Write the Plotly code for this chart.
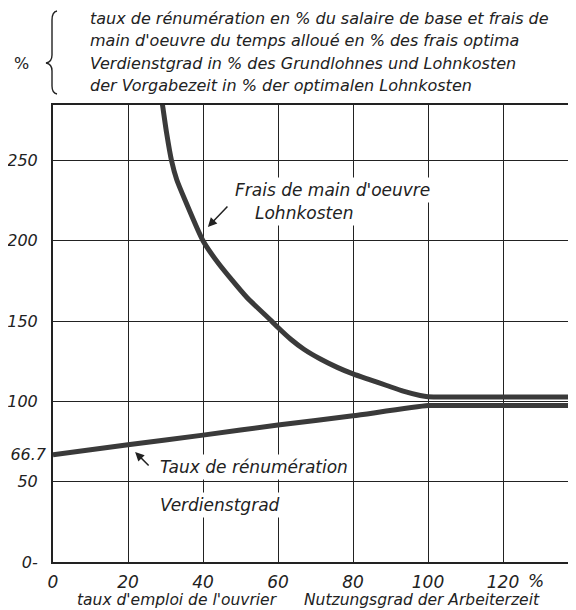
import plotly.graph_objects as go

# ---- data ----
frais_x = [28.5, 29.2, 30.3, 31.6, 33.0, 35.2, 40, 44.1, 51.6, 58.3, 60, 63.4, 66.9, 71.3, 75.8, 80,
           84.6, 89, 93.4, 97.9, 100, 110, 145]
frais_y = [295, 284.6, 267, 250, 238, 225.4, 200, 186, 165, 150, 146, 138.7, 132.5, 126.4, 121.2, 117.1,
           113.4, 109.9, 106.4, 103.7, 102.9, 102.8, 102.8]

taux_x = [0, 20, 40, 60, 80, 100, 110, 145]
taux_y = [66.7, 73, 79, 85.3, 91, 97.4, 97.4, 97.4]

x_ticks = [0, 20, 40, 60, 80, 100, 120]
x_ticktext = ["0", "20", "40", "60", "80", "100", "120"]
y_ticks = [0, 50, 100, 150, 200, 250]
y_ticktext = ["0-", "50", "100", "150", "200", "250"]
y_extra_tick = [66.7]
y_extra_text = ["66.7"]

header_lines = [
    "taux de rénumération en % du salaire de base et frais de",
    "main d'oeuvre du temps alloué en % des frais optima",
    "Verdienstgrad in % des Grundlohnes und Lohnkosten",
    "der Vorgabezeit in % der optimalen Lohnkosten",
]

FONT = "DejaVu Sans"
INK = "#222222"
LINE = "#3a3a3a"

# The page body has an 8px margin, so the figure is 8px smaller than the window
OFF = 8
W, H = 576 - OFF, 610 - OFF
L = 53 - OFF            # plot left edge (window px 53)
T = 105 - OFF           # plot top edge (window px 105)
B = 610 - 562           # plot bottom at window px 562
PW = W - L
PH = H - T - B


def paper(px, py):
    """window pixel -> paper coords"""
    return (px - 53) / PW, (562 - py) / PH


fig = go.Figure()
fig.add_trace(go.Scatter(x=frais_x, y=frais_y, mode="lines",
                         line=dict(color=LINE, width=5, shape="spline", smoothing=0.6),
                         hoverinfo="skip", showlegend=False))
fig.add_trace(go.Scatter(x=taux_x, y=taux_y, mode="lines",
                         line=dict(color=LINE, width=5, shape="spline", smoothing=0.5),
                         hoverinfo="skip", showlegend=False))
# invisible trace on second y-axis so it renders
fig.add_trace(go.Scatter(x=[0], y=[66.7], yaxis="y2", mode="markers",
                         marker=dict(opacity=0), hoverinfo="skip", showlegend=False))

tickfont = dict(family=FONT, size=17, color=INK, style="italic")
ytickfont = dict(family=FONT, size=16, color=INK, style="italic")

fig.update_layout(
    width=W, height=H, autosize=False,
    margin=dict(l=L, r=0, t=T, b=B, pad=0),
    paper_bgcolor="white", plot_bgcolor="white",
    xaxis=dict(range=[0, PW / 3.75], tickvals=x_ticks, ticktext=x_ticktext,
               showgrid=True, gridcolor=INK, gridwidth=1, zeroline=False,
               showline=True, linecolor=INK, linewidth=2, mirror=True, automargin=False,
               ticks="", tickfont=tickfont, ticklabelstandoff=4, fixedrange=True),
    yaxis=dict(range=[0, PH / 1.606], tickvals=y_ticks, ticktext=y_ticktext,
               showgrid=True, gridcolor=INK, gridwidth=1, zeroline=False, automargin=False,
               showline=True, linecolor=INK, linewidth=2,
               ticks="", tickfont=ytickfont, ticklabelstandoff=10, fixedrange=True),
    yaxis2=dict(range=[0, PH / 1.606], overlaying="y", side="left", automargin=False,
                tickvals=y_extra_tick, ticktext=y_extra_text, showgrid=False,
                zeroline=False, showline=False, ticks="", tickfont=ytickfont,
                ticklabelstandoff=6, fixedrange=True),
)

ann = []
# header
for txt, py in zip(header_lines, [18, 41, 63, 86]):
    px_, py_ = paper(88, py)
    ann.append(dict(xref="paper", yref="paper", x=px_, y=py_, text=txt,
                    showarrow=False, xanchor="left", yanchor="middle",
                    font=dict(family=FONT, size=16, color=INK, style="italic")))
px_, py_ = paper(21, 63)
ann.append(dict(xref="paper", yref="paper", x=px_, y=py_, text="%", showarrow=False,
                xanchor="center", yanchor="middle",
                font=dict(family=FONT, size=16, color=INK)))

# in-plot labels
lab_font = dict(family=FONT, size=17, color=INK, style="italic")
ann.append(dict(x=47.7, y=231.6, text="Frais de main d'oeuvre", xanchor="left",
                yanchor="middle", showarrow=False, font=lab_font, bgcolor="white", borderpad=2))
ann.append(dict(x=53.1, y=217.3, text="Lohnkosten", xanchor="left",
                yanchor="middle", showarrow=False, font=lab_font, bgcolor="white", borderpad=2))
ann.append(dict(x=41.3, y=208.6, ax=46.9, ay=222.3, axref="x", ayref="y", text="",
                showarrow=True, arrowhead=2, arrowsize=1.2, arrowwidth=1.5, arrowcolor=INK))
ann.append(dict(x=27.7, y=59.2, text="Taux de rénumération", xanchor="left",
                yanchor="middle", showarrow=False, font=lab_font, bgcolor="white", borderpad=2))
ann.append(dict(x=27.7, y=35.5, text="Verdienstgrad", xanchor="left",
                yanchor="middle", showarrow=False, font=lab_font, bgcolor="white", borderpad=2))
ann.append(dict(x=21.9, y=68.5, ax=25.9, ay=59.2, axref="x", ayref="y", text="",
                showarrow=True, arrowhead=2, arrowsize=1.2, arrowwidth=1.5, arrowcolor=INK))

# x-axis titles and % sign
px_, py_ = paper(536, 581)
ann.append(dict(xref="paper", yref="paper", x=px_, y=py_, text="%", showarrow=False,
                xanchor="center", yanchor="middle", font=tickfont))
title_font = dict(family=FONT, size=15.5, color=INK, style="italic")
px_, py_ = paper(177, 600)
ann.append(dict(xref="paper", yref="paper", x=px_, y=py_, text="taux d'emploi de l'ouvrier",
                showarrow=False, xanchor="center", yanchor="middle", font=title_font))
px_, py_ = paper(422, 600)
ann.append(dict(xref="paper", yref="paper", x=px_, y=py_, text="Nutzungsgrad der Arbeiterzeit",
                showarrow=False, xanchor="center", yanchor="middle", font=title_font))
fig.update_layout(annotations=ann)

# brace
pts = [(57, 11), (52, 12), (52, 20), (52, 55), (52, 62), (46, 63), (52, 64), (52, 71),
       (52, 86), (52, 93), (57, 94)]
pp = [paper(*p) for p in pts]
fmt = lambda p: f"{p[0]:.5f},{p[1]:.5f}"
path = (f"M {fmt(pp[0])} Q {fmt(pp[1])} {fmt(pp[2])} L {fmt(pp[3])} "
        f"Q {fmt(pp[4])} {fmt(pp[5])} Q {fmt(pp[6])} {fmt(pp[7])} L {fmt(pp[8])} "
        f"Q {fmt(pp[9])} {fmt(pp[10])}")
fig.add_shape(type="path", xref="paper", yref="paper", path=path,
              line=dict(color=INK, width=1.4))

fig.write_html("out.html")
